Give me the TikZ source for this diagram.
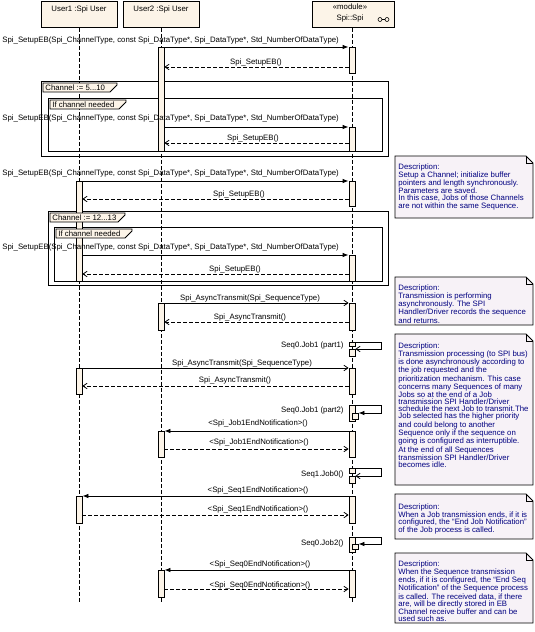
\documentclass[tikz,border=0pt]{standalone}
\usepackage{fontspec}
\setmainfont{Liberation Sans}
\usetikzlibrary{arrows.meta}
\definecolor{boxfill}{RGB}{252,244,232}
\definecolor{notefill}{RGB}{247,242,247}
\definecolor{notecol}{RGB}{0,0,128}
\tikzset{
  lifebox/.style={draw, fill=boxfill, minimum height=26pt, anchor=north, inner sep=0pt},
  actbar/.style={draw, fill=boxfill, minimum width=6pt, anchor=north, inner sep=0pt},
  lifeline/.style={dash pattern=on 4pt off 2pt},
  call/.style={-{Latex[length=6pt,width=4.5pt]}},
  async/.style={-{Straight Barb[length=4pt,width=5.5pt]}},
  reply/.style={dash pattern=on 4pt off 2pt, -{Straight Barb[length=4pt,width=5.5pt]}},
  msg/.style={inner sep=0pt},
  fragment/.style={draw, anchor=north west, inner sep=0pt},
  fragtab/.style={draw, fill=boxfill},
  notebg/.style={draw, fill=notefill},
  notetext/.style={anchor=north west, inner sep=0pt, align=left, text=notecol}
}
\begin{document}
\begin{tikzpicture}[x=1pt, y=-1pt, line width=0.8pt, font=\fontsize{7.8}{7.1}\selectfont]
\useasboundingbox (0,0) rectangle (535,632);

% notes
\foreach \t/\b in {156/218, 277/325, 334/485, 494/539, 553/623} {
  \filldraw[notebg] (395,\t) -- (526,\t) -- (533,\t+7) -- (533,\b) -- (395,\b) -- cycle;
  \draw (526,\t) -- (526,\t+7) -- (533,\t+7);
}
\node[notetext] (n1) at (398,163) {Description:\\Setup a Channel; initialize buffer\\pointers and length synchronously.\\Parameters are saved.\\In this case, Jobs of those Channels\\are not within the same Sequence.};
\node[notetext] (n2) at (398,284) {Description:\\Transmission is performing\\asynchronously. The SPI\\Handler/Driver records the sequence\\and returns.};
\node[notetext] (n3) at (398,342) {Description:\\Transmission processing (to SPI bus)\\is done asynchronously according to\\the job requested and the\\prioritization mechanism. This case\\concerns many Sequences of many\\Jobs so at the end of a Job\\transmission SPI Handler/Driver\\schedule the next Job to transmit.The\\Job selected has the higher priority\\and could belong to another\\Sequence only if the sequence on\\going is configured as interruptible.\\At the end of all Sequences\\transmission SPI Handler/Driver\\becomes idle.};
\node[notetext] (n4) at (398,503) {Description:\\When a Job transmission ends, if it is\\configured, the “End Job Notification”\\of the Job process is called.};
\node[notetext] (n5) at (398,560) {Description:\\When the Sequence transmission\\ends, if it is configured, the “End Seq\\Notification” of the Sequence process\\is called. The received data, if there\\are, will be directly stored in EB\\Channel receive buffer and can be\\used such as.};

% combined fragments
\node[fragment, minimum width=347pt, minimum height=75pt] (loop1) at (41,81) {};
\node[fragment, minimum width=334pt, minimum height=53pt] (opt1) at (48,98) {};
\node[fragment, minimum width=340pt, minimum height=74pt] (loop2) at (48,211) {};
\node[fragment, minimum width=328pt, minimum height=54pt] (opt2) at (54,227) {};

% lifelines
\node[lifebox, minimum width=76pt] (user1) at (79,1) {};
\node[lifebox, minimum width=76pt] (user2) at (161,1) {};
\node[lifebox, minimum width=82pt] (spi) at (353,1) {};
\node[anchor=base] (user1t) at (79,11) {User1 :Spi User};
\node[anchor=base] (user2t) at (161,11) {User2 :Spi User};
\node[anchor=base] (spit1) at (350,9.5) {«module»};
\node[anchor=base] (spit2) at (350,20) {Spi::Spi};
\draw[line width=0.6pt] (380,19.5) circle (2pt) (387,19.5) circle (2pt) (382,19.5) -- (385,19.5);
\coordinate (user1end) at (79,603);
\coordinate (user2end) at (161,603);
\coordinate (spiend) at (352,603);
\draw[lifeline] (user1.south) -- (user1end);
\draw[lifeline] (user2.south) -- (user2end);
\draw[lifeline] (spi.south -| spiend) -- (spiend);

% activations
\node[actbar, minimum height=104pt] (u2a) at (161,47) {};
\node[actbar, minimum height=27pt] (u2b) at (161,303) {};
\node[actbar, minimum height=26pt] (u2c) at (161,431) {};
\node[actbar, minimum height=27pt] (u2d) at (161,570) {};
\node[actbar, minimum height=100pt] (u1a) at (79,181) {};
\node[actbar, minimum height=26pt] (u1b) at (79,368) {};
\node[actbar, minimum height=27pt] (u1c) at (79,496) {};
\node[actbar, minimum height=26pt] (s1) at (352,47) {};
\node[actbar, minimum height=24pt] (s2) at (352,127) {};
\node[actbar, minimum height=25pt] (s3) at (352,181) {};
\node[actbar, minimum height=26pt] (s4) at (352,255) {};
\node[actbar, minimum height=27pt] (s5) at (352,303) {};
\node[actbar, minimum height=4pt] (s6) at (352,342) {};
\node[actbar, minimum height=7pt] (s7) at (352,349) {};
\node[actbar, minimum height=26pt] (s8) at (352,368) {};
\node[actbar, minimum height=16pt] (s9) at (352,405) {};
\node[actbar, minimum height=6pt] (s10) at (355,413) {};
\node[actbar, minimum height=26pt] (s11) at (352,431) {};
\node[actbar, minimum height=5pt] (s12) at (352,468) {};
\node[actbar, minimum height=7pt] (s13) at (352,476) {};
\node[actbar, minimum height=27pt] (s14) at (352,496) {};
\node[actbar, minimum height=15pt] (s15) at (352,537) {};
\node[actbar, minimum height=5pt] (s16) at (355,544) {};
\node[actbar, minimum height=27pt] (s17) at (352,570) {};

% fragment tabs
\filldraw[fragtab] ([shift={(2,2)}]loop1.north west) -- ++(74,0) -- ++(0,2) -- ++(-7,7) -- ++(-67,0) -- cycle;
\filldraw[fragtab] ([shift={(2,2)}]opt1.north west) -- ++(76,0) -- ++(0,2) -- ++(-7,7) -- ++(-69,0) -- cycle;
\filldraw[fragtab] ([shift={(2,2)}]loop2.north west) -- ++(75,0) -- ++(0,2) -- ++(-7,7) -- ++(-68,0) -- cycle;
\filldraw[fragtab] ([shift={(2,2)}]opt2.north west) -- ++(76,0) -- ++(0,2) -- ++(-7,7) -- ++(-69,0) -- cycle;
\node[msg, anchor=west] (loop1t) at ([shift={(4,6.5)}]loop1.north west) {Channel := 5...10};
\node[msg, anchor=west] (opt1t) at ([shift={(4,6.5)}]opt1.north west) {If channel needed};
\node[msg, anchor=west] (loop2t) at ([shift={(4,6.5)}]loop2.north west) {Channel := 12...13};
\node[msg, anchor=west] (opt2t) at ([shift={(4,6.5)}]opt2.north west) {If channel needed};

% messages
\draw[call] (u2a.north east) -- (s1.north west);
\draw[reply] (s1.west |- 0,67) -- (u2a.east |- 0,67);
\draw[call] (u2a.east |- s2.north) -- (s2.north west);
\draw[reply] (s2.west |- 0,143) -- (u2a.east |- 0,143);
\draw[call] (u1a.north east) -- (s3.north west);
\draw[reply] (s3.west |- 0,199) -- (u1a.east |- 0,199);
\draw[call] (u1a.east |- s4.north) -- (s4.north west);
\draw[reply] (s4.west |- 0,274) -- (u1a.east |- 0,274);
\draw[async] (u2b.north east) -- (s5.north west);
\draw[reply] (s5.west |- 0,322) -- (u2b.east |- 0,322);
\draw[async] (s6.north east) -- ++(26,0) |- (s7.north east);
\draw[async] (u1b.north east) -- (s8.north west);
\draw[reply] (s8.west |- 0,386) -- (u1b.east |- 0,386);
\draw[call] (s9.north east) -- ++(26,0) |- (s10.north east);
\draw[call] (s11.north west) -- (u2c.north east);
\draw[reply] (u2c.east |- 0,449) -- (s11.west |- 0,449);
\draw[async] (s12.north east) -- ++(26,0) |- (s13.north east);
\draw[call] (s14.north west) -- (u1c.north east);
\draw[reply] (u1c.east |- 0,515) -- (s14.west |- 0,515);
\draw[call] (s15.north east) -- ++(26,0) |- (s16.north east);
\draw[call] (s17.north west) -- (u2d.north east);
\draw[reply] (u2d.east |- 0,589) -- (s17.west |- 0,589);

% labels
\node[msg, anchor=west] (l1) at (2,40) {Spi\_SetupEB(Spi\_ChannelType, const Spi\_DataType*, Spi\_DataType*, Std\_NumberOfDataType)};
\node[msg] (l2) at (256,62) {Spi\_SetupEB()};
\node[msg, anchor=west] (l3) at (2,118) {Spi\_SetupEB(Spi\_ChannelType, const Spi\_DataType*, Spi\_DataType*, Std\_NumberOfDataType)};
\node[msg] (l4) at (253,138) {Spi\_SetupEB()};
\node[msg, anchor=west] (l5) at (2,173) {Spi\_SetupEB(Spi\_ChannelType, const Spi\_DataType*, Spi\_DataType*, Std\_NumberOfDataType)};
\node[msg] (l6) at (239,194) {Spi\_SetupEB()};
\node[msg, anchor=west] (l7) at (2,247) {Spi\_SetupEB(Spi\_ChannelType, const Spi\_DataType*, Spi\_DataType*, Std\_NumberOfDataType)};
\node[msg] (l8) at (235,269) {Spi\_SetupEB()};
\node[msg] (l9) at (250,298) {Spi\_AsyncTransmit(Spi\_SequenceType)};
\node[msg] (l10) at (250,317) {Spi\_AsyncTransmit()};
\node[msg, anchor=east] (l11) at (344,345) {Seq0.Job1 (part1)};
\node[msg] (l12) at (242,363) {Spi\_AsyncTransmit(Spi\_SequenceType)};
\node[msg] (l13) at (235,380) {Spi\_AsyncTransmit()};
\node[msg, anchor=east] (l14) at (344,410) {Seq0.Job1 (part2)};
\node[msg] (l15) at (258,423) {<Spi\_Job1EndNotification>()};
\node[msg] (l16) at (259,442) {<Spi\_Job1EndNotification>()};
\node[msg, anchor=east] (l17) at (344,474) {Seq1.Job0()};
\node[msg] (l18) at (258,490) {<Spi\_Seq1EndNotification>()};
\node[msg] (l19) at (258,509) {<Spi\_Seq1EndNotification>()};
\node[msg, anchor=east] (l20) at (344,543) {Seq0.Job2()};
\node[msg] (l21) at (260,564) {<Spi\_Seq0EndNotification>()};
\node[msg] (l22) at (260,585) {<Spi\_Seq0EndNotification>()};
\end{tikzpicture}
\end{document}
